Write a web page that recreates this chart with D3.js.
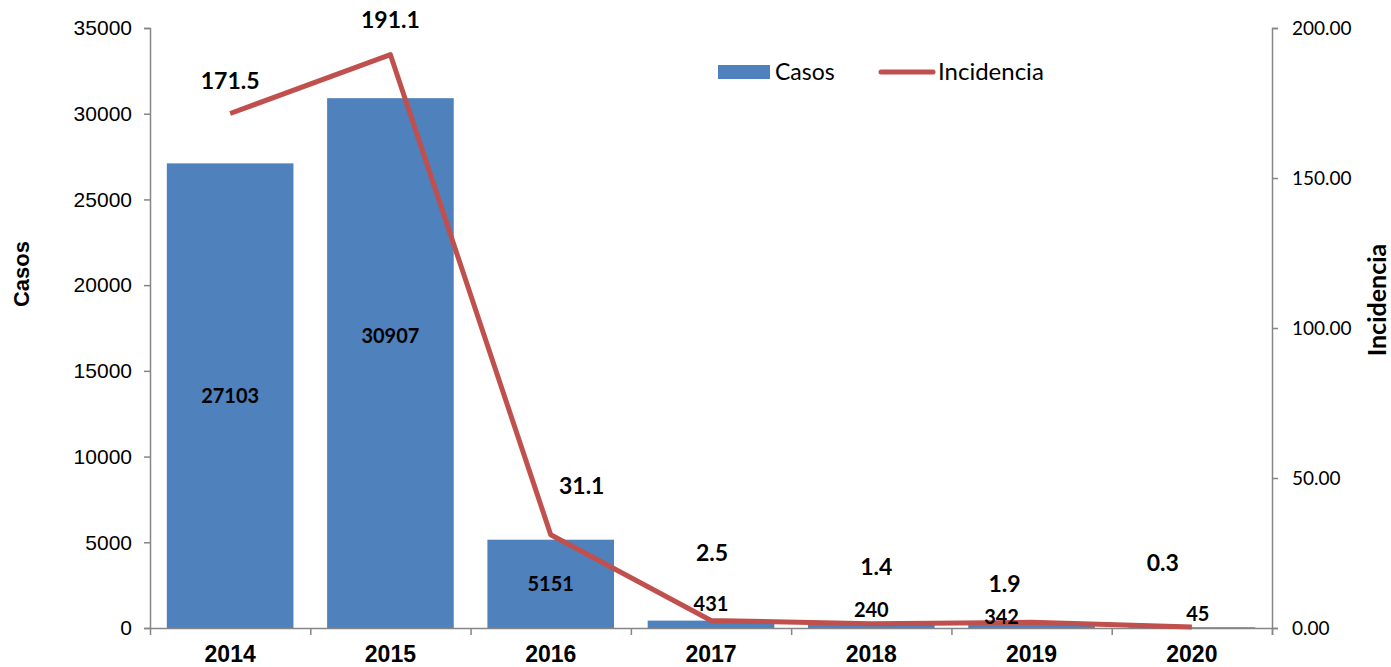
<!DOCTYPE html>
<html>
<head>
<meta charset="utf-8">
<script src="https://cdn.jsdelivr.net/npm/d3@7"></script>
<style>
  body { margin: 0; background: #fff; }
  .axis path, .axis line { stroke: #868686; stroke-width: 1.5; }
  .axis text { fill: #000; }
</style>
</head>
<body>
<script>
(function() {
    var w = 1391,
        h = 667;

    // data
    var years = ['2014', '2015', '2016', '2017', '2018', '2019', '2020'];
    var casos = [27103, 30907, 5151, 431, 240, 342, 45];
    var incidencia = [171.5, 191.1, 31.1, 2.5, 1.4, 1.9, 0.3];
    var casosTicks = [0, 5000, 10000, 15000, 20000, 25000, 30000, 35000];
    var incTicks = [0, 50, 100, 150, 200];

    // label nudges (px) copied from the layout of the original chart
    var casosLabelPos = [['mid', 0, 0], ['mid', 0, -27], ['mid', 0, 0],
                         ['top', 0, -17], ['top', 0, -14], ['top', -30, -5], ['top', 6, -13]];
    var incLabelPos = [[0, -33], [0, -35], [31, -49], [1, -68], [5, -57], [-27, -38], [-29, -64]];

    var m = {left: 150, right: 1272, top: 28, bottom: 628};

    var svg = d3.select('body')
        .append('svg')
        .attr('width', w)
        .attr('height', h);

    var x = d3.scaleBand()
        .domain(years)
        .range([m.left, m.right])
        .paddingInner(0.21)
        .paddingOuter(0.105);
    var yL = d3.scaleLinear().domain([0, 35000]).range([m.bottom, m.top]);
    var yR = d3.scaleLinear().domain([0, 200]).range([m.bottom, m.top]);
    var cx = function(d) { return x(d) + x.bandwidth() / 2; };

    // bars
    svg.append('g')
        .selectAll('rect')
        .data(casos)
        .enter()
        .append('rect')
        .attr('x', function(d, i) { return x(years[i]); })
        .attr('width', x.bandwidth())
        .attr('y', function(d) { return yL(d); })
        .attr('height', function(d) { return yL(0) - yL(d); })
        .attr('fill', '#4F81BD');

    // axes
    svg.append('g')
        .attr('class', 'axis')
        .attr('transform', 'translate(' + m.left + ',0)')
        .call(d3.axisLeft(yL).tickValues(casosTicks).tickSize(6).tickPadding(12).tickFormat(d3.format('d')))
        .call(function(g) {
            g.selectAll('text').style('font', '21px "Liberation Sans", Arial, sans-serif');
        });

    svg.append('g')
        .attr('class', 'axis')
        .attr('transform', 'translate(' + m.right + ',0)')
        .call(d3.axisRight(yR).tickValues(incTicks).tickSize(6).tickPadding(14).tickFormat(d3.format('.2f')))
        .call(function(g) {
            g.selectAll('text').style('font', '19px Lato, "Open Sans", sans-serif');
        });

    // category axis with ticks at the band boundaries
    var xb = d3.scaleLinear().domain([0, years.length]).range([m.left, m.right]);
    var xAxis = svg.append('g')
        .attr('class', 'axis')
        .attr('transform', 'translate(0,' + m.bottom + ')')
        .call(d3.axisBottom(xb).tickValues(d3.range(0, years.length + 1)).tickSize(7).tickFormat(''));
    xAxis.selectAll('.tick')
        .filter(function(d) { return d === 0; })
        .remove();
    svg.append('g')
        .selectAll('text')
        .data(years)
        .enter()
        .append('text')
        .attr('x', cx)
        .attr('y', 662)
        .attr('text-anchor', 'middle')
        .style('font', 'bold 23px "Liberation Sans", Arial, sans-serif')
        .text(function(d) { return d; });

    // line
    var line = d3.line()
        .x(function(d, i) { return cx(years[i]); })
        .y(function(d) { return yR(d); });
    svg.append('path')
        .datum(incidencia)
        .attr('d', line)
        .attr('fill', 'none')
        .attr('stroke', '#C0504D')
        .attr('stroke-width', 5)
        .attr('stroke-linejoin', 'round');

    // bar value labels
    svg.append('g')
        .selectAll('text')
        .data(casos)
        .enter()
        .append('text')
        .attr('x', function(d, i) { return cx(years[i]) + casosLabelPos[i][1]; })
        .attr('y', function(d, i) {
            var p = casosLabelPos[i];
            var base = p[0] === 'mid' ? (yL(d) + yL(0)) / 2 : yL(d);
            return base + p[2];
        })
        .attr('dy', '0.35em')
        .attr('text-anchor', 'middle')
        .style('font', 'bold 20px Lato, "Open Sans", sans-serif')
        .text(function(d) { return d; });

    // line value labels
    svg.append('g')
        .selectAll('text')
        .data(incidencia)
        .enter()
        .append('text')
        .attr('x', function(d, i) { return cx(years[i]) + incLabelPos[i][0]; })
        .attr('y', function(d, i) { return yR(d) + incLabelPos[i][1]; })
        .attr('dy', '0.35em')
        .attr('text-anchor', 'middle')
        .style('font', 'bold 23px Lato, "Open Sans", sans-serif')
        .text(function(d) { return d3.format('.1f')(d); });

    // axis titles
    svg.append('text')
        .attr('transform', 'translate(29,274) rotate(-90)')
        .attr('text-anchor', 'middle')
        .style('font', 'bold 22px "Liberation Sans", Arial, sans-serif')
        .text('Casos');
    svg.append('text')
        .attr('transform', 'translate(1386,300) rotate(-90)')
        .attr('text-anchor', 'middle')
        .style('font', 'bold 25px Lato, "Open Sans", sans-serif')
        .text('Incidencia');

    // legend
    var legend = svg.append('g').attr('transform', 'translate(718,72)');
    legend.append('rect')
        .attr('x', 0).attr('y', -7)
        .attr('width', 52).attr('height', 14)
        .attr('fill', '#4F81BD');
    legend.append('text')
        .attr('x', 57).attr('dy', '0.35em')
        .style('font', '23px Lato, "Open Sans", sans-serif')
        .text('Casos');
    legend.append('line')
        .attr('x1', 163).attr('x2', 215)
        .attr('stroke', '#C0504D')
        .attr('stroke-width', 5)
        .attr('stroke-linecap', 'round');
    legend.append('text')
        .attr('x', 220).attr('dy', '0.35em')
        .style('font', '24px Lato, "Open Sans", sans-serif')
        .text('Incidencia');
})();
</script>
</body>
</html>
